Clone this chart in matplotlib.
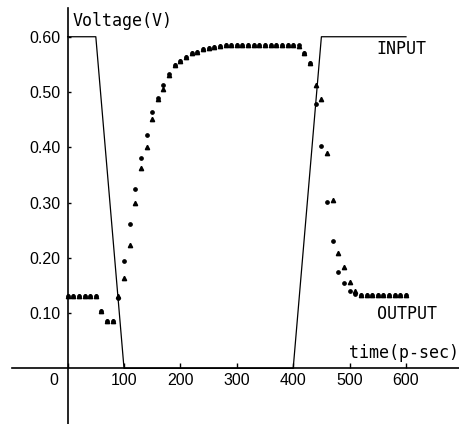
import numpy as np
import matplotlib
matplotlib.use('Agg')
from matplotlib import pyplot as plt
from matplotlib.transforms import ScaledTranslation

# input pulse
input_t = [0, 50, 100, 400, 450, 600]
input_v = [0.60, 0.60, 0.0, 0.0, 0.60, 0.60]

# output samples, every 10 p-sec
out_t = list(range(0, 610, 10))

# output (dots)
out_dot = [0.130, 0.130, 0.130, 0.130, 0.130, 0.130, 0.103, 0.085, 0.085, 0.128,
           0.194, 0.262, 0.325, 0.380, 0.423, 0.464, 0.489, 0.512, 0.532, 0.549,
           0.557, 0.564, 0.570, 0.573, 0.577, 0.580, 0.582, 0.584, 0.585, 0.585,
           0.585, 0.585, 0.585, 0.585, 0.585, 0.585, 0.585, 0.585, 0.585, 0.585,
           0.585, 0.585, 0.571, 0.552, 0.478, 0.402, 0.301, 0.230, 0.174, 0.155,
           0.139, 0.134, 0.133, 0.133, 0.133, 0.133, 0.133, 0.133, 0.133, 0.133,
           0.133]

# output (triangles)
out_tri = [0.130, 0.130, 0.130, 0.130, 0.130, 0.130, 0.103, 0.085, 0.085, 0.130,
           0.163, 0.224, 0.300, 0.363, 0.401, 0.451, 0.488, 0.505, 0.530, 0.548,
           0.556, 0.564, 0.570, 0.573, 0.577, 0.580, 0.582, 0.584, 0.585, 0.585,
           0.585, 0.585, 0.585, 0.585, 0.585, 0.585, 0.585, 0.585, 0.585, 0.585,
           0.585, 0.583, 0.571, 0.552, 0.512, 0.488, 0.389, 0.304, 0.208, 0.183,
           0.157, 0.140, 0.133, 0.133, 0.133, 0.133, 0.133, 0.133, 0.133, 0.133,
           0.133]

x_ticks = [0, 100, 200, 300, 400, 500, 600]
y_ticks = [0.10, 0.20, 0.30, 0.40, 0.50, 0.60]

fig = plt.figure(figsize=(4.59, 4.24), dpi=100)
ax = fig.add_axes([0, 0, 1, 1])
ax.set_xlim(-119.9, 694.0)
ax.set_ylim(-0.1008, 0.6665)

ax.plot(input_t, input_v, color='black', lw=0.9)
ax.plot(out_t, out_tri, linestyle='none', marker='^', ms=3.1, color='black')
ax.plot(out_t, out_dot, linestyle='none', marker='o', ms=2.4, color='black')

for s in ['top', 'right']:
    ax.spines[s].set_visible(False)
ax.spines['left'].set_position(('data', 0))
ax.spines['bottom'].set_position(('data', 0))
ax.spines['left'].set_bounds(-0.1008, 0.652)
ax.spines['bottom'].set_bounds(-98.6, 694.0)
ax.spines['left'].set_linewidth(1.2)
ax.spines['bottom'].set_linewidth(1.2)

ax.set_xticks(x_ticks)
ax.set_xticklabels([str(t) for t in x_ticks])
ax.set_yticks(y_ticks)
ax.set_yticklabels(['%.2f' % v for v in y_ticks])
ax.tick_params(axis='x', direction='in', length=3.6, width=1.0, pad=3.5)
ax.tick_params(axis='y', direction='in', length=2.4, width=1.0, pad=5)
for lab in ax.get_xticklabels() + ax.get_yticklabels():
    lab.set_family('Liberation Sans')
    lab.set_fontsize(11.5)
# "0" sits left of the vertical axis
lab0 = ax.get_xticklabels()[0]
lab0.set_transform(lab0.get_transform() + ScaledTranslation(-0.136, 0, fig.dpi_scale_trans))

mono = dict(family='DejaVu Sans Mono', fontsize=12, color='black')
ax.text(8, 0.628, 'Voltage(V)', ha='left', va='center', **mono)
ax.text(548, 0.578, 'INPUT', ha='left', va='center', **mono)
ax.text(548, 0.099, 'OUTPUT', ha='left', va='center', **mono)
ax.text(499, 0.028, 'time(p-sec)', ha='left', va='center', **mono)

fig.savefig('out.png', dpi=100)
